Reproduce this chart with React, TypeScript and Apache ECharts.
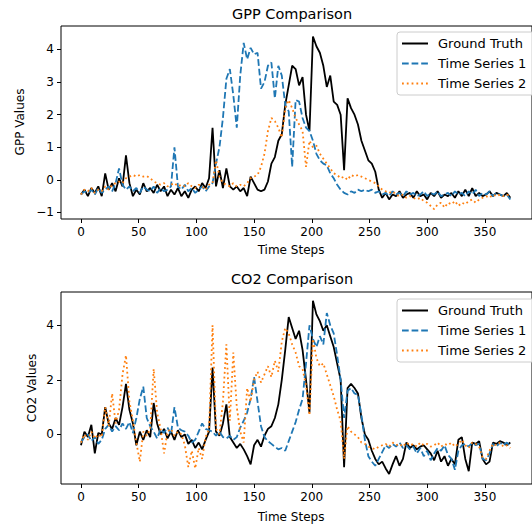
import React, { useEffect, useRef } from 'react';
import * as echarts from 'echarts';

// Sampled every STEP time steps, starting at 0
const STEP = 3;

const gppTruth = [
  -0.45, -0.3, -0.5, -0.25, -0.4, -0.2, -0.5, 0.2, -0.3, -0.1,
  -0.35, 0.05, -0.2, 0.75, -0.1, -0.5, -0.3, -0.45, -0.1, -0.35,
  -0.25, -0.4, -0.15, -0.35, -0.2, -0.5, -0.3, -0.45, -0.25, -0.5,
  -0.35, -0.55, -0.3, -0.2, -0.35, -0.1, -0.25, 0.05, 1.6, -0.2,
  0.3, -0.25, 0.35, -0.2, -0.3, -0.2, -0.35, -0.25, -0.5, 0.1,
  -0.1, -0.3, -0.35, -0.3, -0.05, 0.5, 0.7, 1.2, 1.4, 2.3,
  2.9, 3.5, 3.4, 2.9, 3.15, 2.0, 1.5, 4.4, 4.1, 3.9,
  3.5, 2.85, 3.2, 2.4, 2.3, 2.0, 0.3, 2.5, 2.2, 2.0,
  1.7, 1.2, 0.9, 0.6, 0.5, 0.25, -0.3, -0.55, -0.4, -0.6,
  -0.45, -0.5, -0.35, -0.55, -0.45, -0.4, -0.55, -0.35, -0.5, -0.45,
  -0.6, -0.4, -0.5, -0.35, -0.55, -0.45, -0.5, -0.4, -0.55, -0.35,
  -0.5, -0.3, -0.5, -0.25, -0.5, -0.4, -0.5, -0.45, -0.35, -0.5,
  -0.4, -0.45, -0.5, -0.4, -0.55,
];

const gppTs1 = [
  -0.45, -0.35, -0.4, -0.3, -0.45, -0.25, -0.4, -0.3, -0.2, -0.35,
  -0.1, 0.35, -0.15, -0.3, -0.2, -0.35, -0.25, -0.4, -0.2, -0.3,
  -0.35, -0.2, -0.4, -0.25, -0.35, -0.3, -0.2, 1.0, -0.2, -0.3,
  -0.15, -0.35, -0.25, -0.4, -0.3, -0.2, -0.35, -0.2, -0.1, 0.5,
  1.0, 1.9, 3.1, 3.4, 2.6, 1.6, 3.2, 4.2, 3.7, 4.05,
  3.85, 3.9, 2.8, 3.0, 3.5, 3.6, 2.5, 3.5, 3.2, 2.3,
  2.1, 0.4, 2.45, 2.4, 1.9, 1.6, 1.5, 1.2, 0.8, 0.6,
  0.5, 0.45, 0.2, 0.05, -0.15, -0.3, -0.4, -0.45, -0.35, -0.4,
  -0.3, -0.35, -0.3, -0.35, -0.3, -0.4, -0.35, -0.45, -0.4, -0.5,
  -0.35, -0.45, -0.4, -0.5, -0.35, -0.45, -0.4, -0.5, -0.45, -0.35,
  -0.5, -0.4, -0.45, -0.35, -0.5, -0.45, -0.4, -0.5, -0.35, -0.45,
  -0.4, -0.5, -0.35, -0.45, -0.3, -0.5, -0.4, -0.45, -0.35, -0.5,
  -0.4, -0.45, -0.5, -0.45, -0.6,
];

const gppTs2 = [
  -0.45, -0.3, -0.35, -0.25, -0.4, -0.3, -0.35, -0.2, -0.3, -0.15,
  -0.1, -0.05, -0.1, 0.05, 0.1, 0.15, 0.1, 0.15, 0.1, 0.12,
  0.05, -0.05, -0.1, -0.15, -0.1, -0.2, -0.15, -0.1, -0.2, -0.15,
  -0.2, -0.1, -0.2, -0.25, -0.15, -0.2, -0.3, -0.15, -0.1, 0.6,
  0.1, -0.1, -0.15, -0.2, -0.1, -0.2, -0.15, -0.2, -0.1, 0.05,
  0.1, 0.15, 0.4, 0.8, 1.5, 1.9, 1.8, 1.6, 1.3, 2.2,
  2.45, 2.2, 1.9, 1.7, 1.5, 0.4, 1.2, 1.0, 1.05, 0.8,
  0.65, 0.5, 0.35, 0.2, 0.15, 0.05, 0.1, 0.0, 0.15, 0.1,
  0.15, 0.1, 0.05, 0.0, -0.05, -0.1, -0.2, -0.3, -0.35, -0.4,
  -0.35, -0.45, -0.5, -0.45, -0.55, -0.5, -0.55, -0.6, -0.55, -0.65,
  -0.7, -0.8, -0.9, -0.75, -0.7, -0.85, -0.7, -0.75, -0.65, -0.8,
  -0.7, -0.75, -0.65, -0.6, -0.7, -0.6, -0.55, -0.5, -0.55, -0.45,
  -0.5, -0.45, -0.5, -0.45, -0.5,
];

const co2Truth = [
  -0.4, 0.1, -0.1, 0.35, -0.7, 0.05, 0.0, 1.0, 0.4, 0.2,
  0.6, 0.35, 1.0, 1.85, 0.9, 0.4, -0.4, 0.1, -0.2, 0.15,
  -0.1, 1.15, 0.4, 0.0, 0.2, -0.15, 0.1, -0.2, 0.15, -0.1,
  0.0, -0.35, -0.2, -0.5, -0.3, -0.55, -0.2, 0.1, 2.45, 0.1,
  -0.05, 0.4, 1.1, -0.1, -0.3, -0.5, -0.35, -0.55, -0.8, -1.1,
  -0.4, -0.2, -0.45, -0.05, 0.2, 0.3, 0.6, 1.1, 2.0, 3.1,
  4.3, 3.9, 3.5, 3.8, 3.1, 2.0, 0.8, 4.9, 4.4, 4.15,
  3.8, 4.0, 3.6, 3.2, 2.6, 2.0, -1.2, 1.7, 1.85, 1.7,
  1.5, 0.6, 0.0, -0.2, -0.6, -0.9, -1.1, -1.0, -1.25, -1.45,
  -1.1, -0.8, -1.15, -0.9, -0.3, -0.5, -0.4, -0.55, -0.45, -0.4,
  -0.55, -0.7, -0.95, -0.6, -1.0, -0.8, -1.15, -0.9, -1.1, -0.2,
  -0.1, -0.9, -1.35, -0.3, -0.35, -0.25, -0.9, -1.1, -1.0, -0.3,
  -0.35, -0.25, -0.3, -0.4, -0.3,
];

const co2Ts1 = [
  -0.3, -0.1, 0.0, -0.25, -0.1, -0.35, -0.2, 0.2, 0.35, 0.1,
  0.3, 0.15, 0.4, 0.2, 0.45, 0.05, 0.6, 1.3, 1.75, 0.6,
  0.3, 0.1, -0.15, 0.2, 0.05, 0.25, 0.0, 1.0, 0.25, 0.15,
  0.1, -0.05, -0.3, -0.2, 0.1, 0.4, 0.2, 0.15, 0.1, -0.05,
  0.1, -0.1, -0.15, -0.05, -0.2, -0.1, 0.25, 0.5, 0.8, 1.3,
  2.1, 1.2, 0.3, -0.1, -0.25, -0.35, -0.45, -0.55, -0.5, -0.6,
  -0.25, 0.1, 0.45, 0.9, 1.3, 2.6, 4.0, 3.5, 3.2, 3.6,
  3.3, 4.45, 4.0, 3.7, 2.9, 2.0, 0.6, 1.6, 1.7, 1.5,
  1.45, 0.7, -0.2, -0.8, -1.0, -1.15, -0.9, -0.65, -0.4, -0.5,
  -0.35, -0.45, -0.3, -0.5, -0.4, -0.55, -0.45, -0.7, -0.5, -0.8,
  -0.6, -0.95, -0.7, -0.5, -0.6, -0.4, -0.75, -0.9, -1.3, -0.6,
  -0.4, -0.35, -0.45, -0.3, -0.4, -0.35, -0.9, -0.95, -0.7, -0.35,
  -0.45, -0.3, -0.4, -0.3, -0.45,
];

const co2Ts2 = [
  -0.3, 0.0, -0.2, 0.1, -0.15, 0.0, -0.1, 1.0, 0.3, 1.5,
  0.4, 0.9, 2.2, 2.9, 1.2, 0.5, -0.3, -1.0, 0.1, -0.05,
  0.2, 2.4, 0.8, 0.2, -0.7, 0.1, 0.2, -0.05, 0.1, 0.0,
  -0.4, -1.2, -0.6, -1.25, -0.5, -0.9, -0.1, 0.2, 4.0, 0.2,
  0.0, 1.2, 3.3, 0.5, 3.0, 1.0, 0.1, -0.3, 1.7, 1.2,
  2.0, 2.3, 1.9, 2.2, 2.5, 2.1, 2.7, 2.3, 3.4, 3.9,
  3.7, 3.3, 3.0, 2.5, 2.4, 1.8, 0.7, 3.5, 2.8, 2.5,
  2.6, 2.2, 1.8, 1.4, 0.9, 0.5, -0.9, 0.3, 0.1, 0.0,
  -0.1, -0.3, -0.35, -0.45, -0.5, -0.55, -0.45, -0.4, -0.35, -0.45,
  -0.3, -0.4, -0.35, -0.45, -0.3, -0.4, -0.35, -0.45, -0.3, -0.4,
  -0.35, -0.45, -0.4, -0.3, -0.45, -0.35, -0.4, -0.3, -0.45, -0.35,
  -0.2, -0.4, -0.5, -0.3, -0.35, -0.45, -0.85, -0.9, -0.6, -0.35,
  -0.4, -0.3, -0.45, -0.4, -0.5,
];

const seriesNames = ['Ground Truth', 'Time Series 1', 'Time Series 2'];
const xTicks = [0, 50, 100, 150, 200, 250, 300, 350];
const gppTicks = [-1, 0, 1, 2, 3, 4];
const co2Ticks = [0, 2, 4];

const FONT = 'DejaVu Sans';
const COLORS = ['#000000', '#1f77b4', '#ff7f0e'];
const DASHES: any[] = ['solid', [6.7, 2.9], [1.8, 3]];

const toPairs = (vals: number[]) => vals.map((v, i) => [i * STEP, v]);
const fmt = (v: number) => String(v).replace('-', '\u2212');

export default function App() {
  const ref = useRef<HTMLDivElement>(null);

  useEffect(() => {
    document.body.style.margin = '0';
    if (!ref.current) return;
    const chart = echarts.init(ref.current, null, { renderer: 'svg' });

    const xAxisBase = (gridIndex: number) => ({
      type: 'value',
      gridIndex,
      min: -17.3,
      max: 390.8,
      splitLine: { show: false },
      axisLine: { show: false, onZero: false },
      axisTick: { show: true, inside: false, length: 4, lineStyle: { color: '#000', width: 1 }, customValues: xTicks },
      axisLabel: { customValues: xTicks, fontFamily: FONT, fontSize: 12, color: '#000', margin: 7, formatter: fmt },
    });
    const yAxisBase = (gridIndex: number, min: number, max: number, ticks: number[]) => ({
      type: 'value',
      gridIndex,
      min,
      max,
      splitLine: { show: false },
      axisLine: { show: false, onZero: false },
      axisTick: { show: true, inside: false, length: 4, lineStyle: { color: '#000', width: 1 }, customValues: ticks },
      axisLabel: { customValues: ticks, fontFamily: FONT, fontSize: 12, color: '#000', margin: 7, formatter: fmt },
    });

    const data = [
      [gppTruth, gppTs1, gppTs2],
      [co2Truth, co2Ts1, co2Ts2],
    ];
    const series: any[] = [];
    data.forEach((group, gi) => {
      group.forEach((vals, si) => {
        series.push({
          type: 'line',
          name: seriesNames[si],
          xAxisIndex: gi,
          yAxisIndex: gi,
          data: toPairs(vals),
          symbol: 'none',
          showSymbol: false,
          color: COLORS[si],
          lineStyle: { color: COLORS[si], width: 1.8, type: DASHES[si] },
          emphasis: { disabled: true },
          z: 2 + si,
        });
      });
    });

    const legendBase = (top: number) => ({
      orient: 'vertical',
      left: 397,
      top,
      data: seriesNames,
      selectedMode: false,
      backgroundColor: 'rgba(255,255,255,0.8)',
      borderColor: '#cccccc',
      borderWidth: 1,
      borderRadius: 3,
      padding: [5, 8, 5, 4],
      itemWidth: 26,
      itemHeight: 12,
      itemGap: 7,
      itemStyle: { color: 'transparent', borderWidth: 0, opacity: 0 },
      textStyle: { fontFamily: FONT, fontSize: 13, color: '#000', padding: [0, 0, 0, 5] },
    });

    const text = (str: string, x: number, y: number, size: number, rotate = 0) => ({
      type: 'text',
      x,
      y,
      rotation: rotate,
      style: {
        text: str,
        fontFamily: FONT,
        fontSize: size,
        fill: '#000',
        textAlign: 'center',
        textVerticalAlign: 'middle',
      },
      z: 10,
    });

    chart.setOption({
      animation: false,
      backgroundColor: '#ffffff',
      grid: [
        { left: 61, right: -2, top: 26, height: 193, show: true, borderColor: '#000', borderWidth: 1, backgroundColor: 'transparent' },
        { left: 61, right: -2, top: 292, height: 192, show: true, borderColor: '#000', borderWidth: 1, backgroundColor: 'transparent' },
      ],
      xAxis: [xAxisBase(0), xAxisBase(1)],
      yAxis: [yAxisBase(0, -1.2, 4.72, gppTicks), yAxisBase(1, -1.82, 5.22, co2Ticks)],
      legend: [legendBase(32), legendBase(299)],
      series,
      graphic: [
        text('GPP Comparison', 292, 13.5, 14.5),
        text('Time Steps', 291, 250, 12),
        text('GPP Values', 20, 122, 12, Math.PI / 2),
        text('CO2 Comparison', 292, 278.5, 14.5),
        text('Time Steps', 291, 516.5, 12),
        text('CO2 Values', 32, 388, 12, Math.PI / 2),
      ],
    });

    return () => chart.dispose();
  }, []);

  return <div ref={ref} style={{ width: 532, height: 527 }} />;
}
